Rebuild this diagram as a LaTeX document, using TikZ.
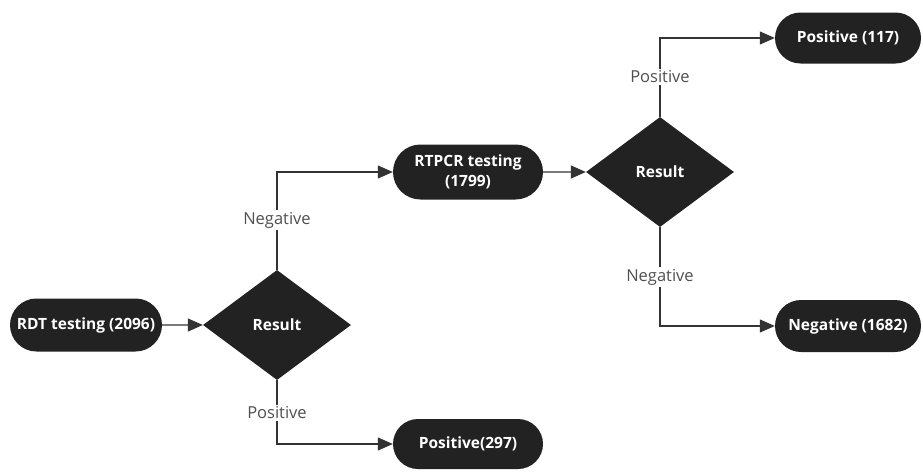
\documentclass[tikz,border=0pt]{standalone}
\usepackage{fontspec}
\setmainfont{Open Sans}
\usetikzlibrary{shapes.geometric,shapes.misc,arrows.meta,positioning}
\definecolor{nodefill}{HTML}{222222}
\definecolor{linegray}{HTML}{333333}
\definecolor{labelgray}{HTML}{505050}
\begin{document}
\begin{tikzpicture}[x=1pt,y=-1pt,
  term/.style={rounded rectangle, fill=nodefill, text=white, font=\bfseries\fontsize{15.5}{20}\selectfont, align=center, minimum height=53pt, inner sep=0pt},
  decision/.style={diamond, fill=nodefill, text=white, font=\bfseries\fontsize{15.5}{20}\selectfont, minimum width=148pt, minimum height=110pt, inner sep=0pt, aspect=1.35},
  conn/.style={draw=linegray, line width=1.2pt, -{Triangle[length=15pt,width=13pt]}},
  lab/.style={fill=white, text=labelgray, font=\fontsize{16.5}{18}\selectfont, inner sep=2pt}
]
\useasboundingbox (0,0) rectangle (923,471);
\node[term, minimum width=152pt] (rdt) at (86,325) {RDT testing (2096)};
\node[decision] (d1) at (277,325) {Result};
\node[term, minimum width=150pt, minimum height=55pt] (rt) at (468,172) {RTPCR testing\\(1799)};
\node[decision] (d2) at (660,172) {Result};
\node[term, minimum width=146pt, minimum height=51pt] (p117) at (848,38) {Positive (117)};
\node[term, minimum width=146pt, minimum height=52pt] (n1682) at (848,326) {Negative (1682)};
\node[term, minimum width=150pt, minimum height=50pt] (p297) at (468,444) {Positive(297)};
\draw[conn] (rdt) -- (d1);
\draw[conn] (rt) -- (d2);
\draw[conn] (d1.north) |- (rt.west);
\draw[conn] (d1.south) |- (p297.west);
\draw[conn] (d2.north) |- (p117.west);
\draw[conn] (d2.south) |- (n1682.west);
\node[lab] (l1) at (277,220) {Negative};
\node[lab] (l2) at (277,413) {Positive};
\node[lab] (l3) at (660,77) {Positive};
\node[lab] (l4) at (660,277) {Negative};
\end{tikzpicture}
\end{document}
